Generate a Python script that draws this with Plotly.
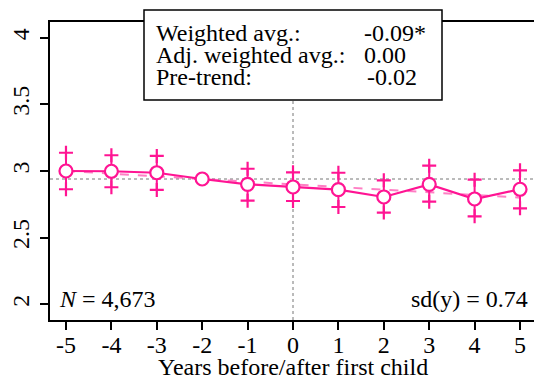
import plotly.graph_objects as go

# Event-study estimates around the birth of the first child
years = [-5, -4, -3, -2, -1, 0, 1, 2, 3, 4, 5]
estimate = [3.000, 2.998, 2.987, 2.940, 2.900, 2.880, 2.860, 2.805, 2.900, 2.790, 2.863]
ci_low = [2.863, 2.878, 2.858, None, 2.777, 2.775, 2.730, 2.688, 2.770, 2.660, 2.720]
ci_high = [3.137, 3.118, 3.113, None, 3.017, 2.990, 2.987, 2.930, 3.040, 2.935, 3.005]

# Linear pre-trend, evaluated at the window ends
trend_years = [-5, 5]
trend_values = [3.00, 2.80]

reference_level = 2.94  # value at year -2
y_ticks = [2, 2.5, 3, 3.5, 4]
y_tick_labels = ["2", "2.5", "3", "3.5", "4"]

stat_labels = ["Weighted avg.:", "Adj. weighted avg.:", "Pre-trend:"]
stat_values = ["-0.09*", "0.00", "-0.02"]
n_label = "<i>N</i> = 4,673"
sd_label = "sd(y) = 0.74"

PINK = "#FF1493"
FONT = "Liberation Serif, Times New Roman, serif"

fig = go.Figure()

# dashed pre-trend line
fig.add_trace(go.Scatter(
    x=trend_years, y=trend_values, mode="lines",
    line=dict(color="rgba(255,20,147,0.55)", width=2, dash="dash"),
    hoverinfo="skip", showlegend=False,
))

# confidence interval whiskers
wx, wy = [], []
px, py = [], []
for x, lo, hi in zip(years, ci_low, ci_high):
    if lo is None:
        continue
    wx += [x, x, None]
    wy += [lo, hi, None]
    px += [x, x]
    py += [lo, hi]
fig.add_trace(go.Scatter(
    x=wx, y=wy, mode="lines", line=dict(color=PINK, width=2),
    hoverinfo="skip", showlegend=False,
))
fig.add_trace(go.Scatter(
    x=px, y=py, mode="markers",
    marker=dict(symbol="cross-thin", size=10, line=dict(color=PINK, width=2.2)),
    hoverinfo="skip", showlegend=False,
))

# point estimates
fig.add_trace(go.Scatter(
    x=years, y=estimate, mode="lines+markers",
    line=dict(color=PINK, width=2.2),
    marker=dict(symbol="circle", size=13, color="white", line=dict(color=PINK, width=2.2)),
    showlegend=False,
))

W, H = 534, 379
ML, MR, MT, MB = 50, 0, 22, 59
pw, ph = W - ML - MR, H - MT - MB


def px_x(v):
    return (v - ML) / pw


def px_y(v):
    return (H - MB - v) / ph


shapes = [
    dict(type="line", xref="x", yref="paper", x0=0, x1=0, y0=0, y1=1,
         line=dict(color="#777777", width=1, dash="dot"), layer="below"),
    dict(type="line", xref="paper", yref="y", x0=0, x1=1,
         y0=reference_level, y1=reference_level,
         line=dict(color="#777777", width=1, dash="dot"), layer="below"),
    dict(type="rect", xref="paper", yref="paper",
         x0=px_x(144), x1=px_x(442), y0=px_y(100), y1=px_y(10),
         line=dict(color="black", width=1.5), fillcolor="white", layer="above"),
]

annotations = []
label_rows = [33, 55, 77]
value_left = [362, 362, 365]
for lab, val, yy, vx in zip(stat_labels, stat_values, label_rows, value_left):
    annotations.append(dict(text=lab, xref="paper", yref="paper", x=px_x(154), y=px_y(yy),
                            xanchor="left", yanchor="middle", showarrow=False,
                            font=dict(family=FONT, size=24, color="black")))
    annotations.append(dict(text=val, xref="paper", yref="paper", x=px_x(vx), y=px_y(yy),
                            xanchor="left", yanchor="middle", showarrow=False,
                            font=dict(family=FONT, size=24, color="black")))

annotations.append(dict(text=n_label, xref="paper", yref="paper", x=px_x(57), y=px_y(299),
                        xanchor="left", yanchor="middle", showarrow=False,
                        font=dict(family=FONT, size=24, color="black")))
annotations.append(dict(text=sd_label, xref="paper", yref="paper", x=px_x(530), y=px_y(299),
                        xanchor="right", yanchor="middle", showarrow=False,
                        font=dict(family=FONT, size=24, color="black")))
annotations.append(dict(text="Years before/after first child", xref="x", yref="paper",
                        x=0, y=px_y(367), xanchor="center", yanchor="middle", showarrow=False,
                        font=dict(family=FONT, size=24, color="black")))

fig.update_layout(
    width=W, height=H,
    margin=dict(l=ML, r=MR, t=MT, b=MB, pad=0),
    paper_bgcolor="white", plot_bgcolor="white",
    font=dict(family=FONT, size=24, color="black"),
    shapes=shapes, annotations=annotations,
    xaxis=dict(
        range=[-5.352, 5.308], tickmode="array", tickvals=years,
        ticktext=[str(v) for v in years],
        showline=True, linecolor="black", linewidth=2, mirror=True,
        ticks="outside", ticklen=8, tickwidth=1.5, tickcolor="black",
        showgrid=False, zeroline=False, ticklabelstandoff=-6,
        tickfont=dict(family=FONT, size=24, color="black"),
    ),
    yaxis=dict(
        range=[1.882, 4.118], tickmode="array", tickvals=y_ticks,
        ticktext=y_tick_labels, tickangle=-90,
        showline=True, linecolor="black", linewidth=2,
        ticks="outside", ticklen=8, tickwidth=1.5, tickcolor="black",
        showgrid=False, zeroline=False, ticklabelstandoff=1,
        tickfont=dict(family=FONT, size=24, color="black"),
    ),
)

fig.write_html("out.html")
